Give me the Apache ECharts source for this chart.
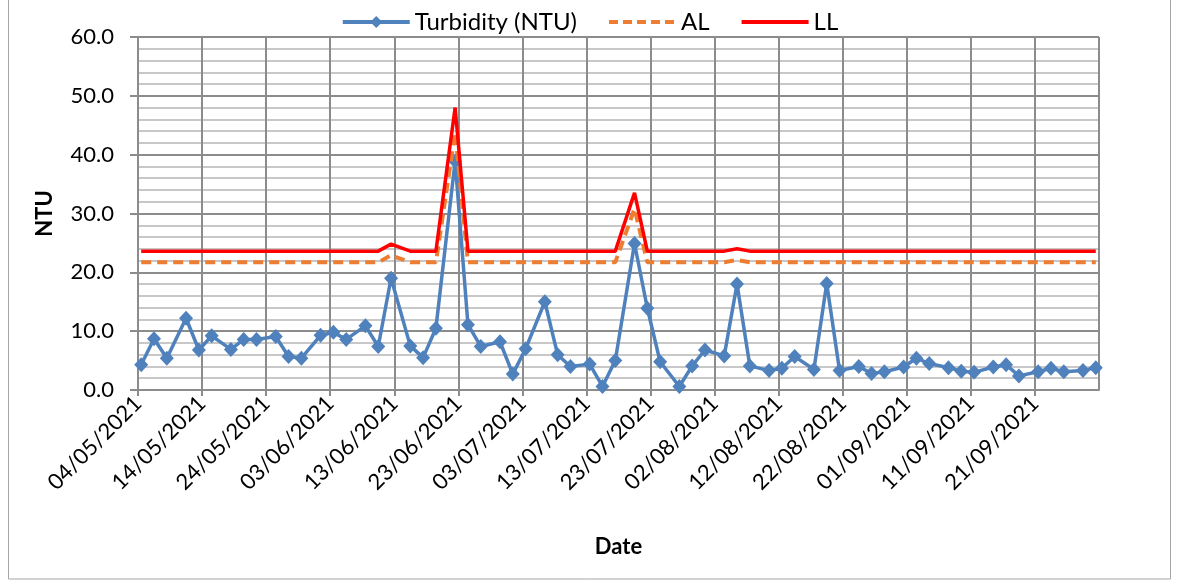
<!DOCTYPE html>
<html>
<head>
<meta charset="utf-8">
<script src="https://cdn.jsdelivr.net/npm/echarts@6/dist/echarts.min.js"></script>
<style>
  html, body { margin: 0; padding: 0; background: #ffffff; }
  #chart { width: 1179px; height: 584px; }
</style>
</head>
<body>
<div id="chart"></div>
<script>
// Sampling dates (Tue / Thu / Sat), May - September 2021
const sampleDates = [
  '2021-05-04','2021-05-06','2021-05-08','2021-05-11','2021-05-13','2021-05-15','2021-05-18','2021-05-20','2021-05-22','2021-05-25','2021-05-27','2021-05-29',
  '2021-06-01','2021-06-03','2021-06-05','2021-06-08','2021-06-10','2021-06-12','2021-06-15','2021-06-17','2021-06-19','2021-06-22','2021-06-24','2021-06-26','2021-06-29',
  '2021-07-01','2021-07-03','2021-07-06','2021-07-08','2021-07-10','2021-07-13','2021-07-15','2021-07-17','2021-07-20','2021-07-22','2021-07-24','2021-07-27','2021-07-29','2021-07-31',
  '2021-08-03','2021-08-05','2021-08-07','2021-08-10','2021-08-12','2021-08-14','2021-08-17','2021-08-19','2021-08-21','2021-08-24','2021-08-26','2021-08-28','2021-08-31',
  '2021-09-02','2021-09-04','2021-09-07','2021-09-09','2021-09-11','2021-09-14','2021-09-16','2021-09-18','2021-09-21','2021-09-23','2021-09-25','2021-09-28','2021-09-30'
];

// Turbidity readings (NTU)
const turbidity = [
  4.3, 8.7, 5.4, 12.2, 6.8, 9.2, 6.9, 8.6, 8.6, 9.1, 5.7, 5.4,
  9.3, 9.8, 8.6, 10.9, 7.4, 19.0, 7.5, 5.5, 10.5, 38.9, 11.1, 7.4, 8.2,
  2.7, 7.0, 15.0, 6.0, 4.0, 4.4, 0.6, 5.0, 24.9, 13.9, 4.8, 0.6, 4.1, 6.8,
  5.8, 18.0, 4.1, 3.3, 3.7, 5.7, 3.5, 18.1, 3.3, 4.0, 2.8, 3.1, 3.9,
  5.4, 4.5, 3.8, 3.2, 3.0, 3.9, 4.3, 2.4, 3.1, 3.7, 3.1, 3.3, 3.8
];

// Alert limit (AL)
const alertLimit = [
  21.7, 21.7, 21.7, 21.7, 21.7, 21.7, 21.7, 21.7, 21.7, 21.7, 21.7, 21.7,
  21.7, 21.7, 21.7, 21.7, 21.7, 22.9, 21.7, 21.7, 21.7, 43.8, 21.7, 21.7, 21.7,
  21.7, 21.7, 21.7, 21.7, 21.7, 21.7, 21.7, 21.7, 30.8, 21.7, 21.7, 21.7, 21.7, 21.7,
  21.7, 22.1, 21.7, 21.7, 21.7, 21.7, 21.7, 21.7, 21.7, 21.7, 21.7, 21.7, 21.7,
  21.7, 21.7, 21.7, 21.7, 21.7, 21.7, 21.7, 21.7, 21.7, 21.7, 21.7, 21.7, 21.7
];

// Lower limit (LL)
const lowerLimit = [
  23.6, 23.6, 23.6, 23.6, 23.6, 23.6, 23.6, 23.6, 23.6, 23.6, 23.6, 23.6,
  23.6, 23.6, 23.6, 23.6, 23.6, 24.8, 23.6, 23.6, 23.6, 48.0, 23.6, 23.6, 23.6,
  23.6, 23.6, 23.6, 23.6, 23.6, 23.6, 23.6, 23.6, 33.5, 23.6, 23.6, 23.6, 23.6, 23.6,
  23.6, 24.0, 23.6, 23.6, 23.6, 23.6, 23.6, 23.6, 23.6, 23.6, 23.6, 23.6, 23.6,
  23.6, 23.6, 23.6, 23.6, 23.6, 23.6, 23.6, 23.6, 23.6, 23.6, 23.6, 23.6, 23.6
];

// Date axis: days counted from the first sampling day, ticks every 10 days
const axisStart = '2021-05-04';
const axisEnd = '2021-10-01';
const tickDays = 10;
const yTicks = { min: 0, max: 60, step: 10 };

const DAY = 86400000;
function dayIndex(s) {
  const [y, m, d] = s.split('-').map(Number);
  const [y0, m0, d0] = axisStart.split('-').map(Number);
  return (Date.UTC(y, m - 1, d) - Date.UTC(y0, m0 - 1, d0)) / DAY;
}
function dayLabel(v) {
  const [y0, m0, d0] = axisStart.split('-').map(Number);
  const dt = new Date(Date.UTC(y0, m0 - 1, d0) + v * DAY);
  const dd = String(dt.getUTCDate()).padStart(2, '0');
  const mm = String(dt.getUTCMonth() + 1).padStart(2, '0');
  return dd + '/' + mm + '/' + dt.getUTCFullYear();
}
// each reading sits in the middle of its day slot
const xs = sampleDates.map(s => dayIndex(s) + 0.5);
const pair = arr => arr.map((v, i) => [xs[i], v]);

const FONT = 'Lato';
const gridGrey = '#8c8c8c';
const BLUE = '#4F81BD', ORANGE = '#ED7D31', RED = '#FF0000';

const chart = echarts.init(document.getElementById('chart'), null, { renderer: 'canvas' });
chart.setOption({
  animation: false,
  backgroundColor: '#ffffff',
  textStyle: { fontFamily: FONT, color: '#000000' },
  graphic: [{
    type: 'rect',
    shape: { x: 8.5, y: -2, width: 1162, height: 581 },
    style: { fill: 'none', stroke: '#a6a6a6', lineWidth: 1 },
    silent: true, z: -10
  }],
  legend: {
    top: 5,
    left: 'center',
    itemWidth: 67,
    itemHeight: 15,
    itemGap: 30,
    textStyle: { fontFamily: FONT, fontSize: 24, color: '#000000' },
    data: [
      { name: 'Turbidity (NTU)', lineStyle: { color: BLUE, width: 4 } },
      { name: 'AL', itemStyle: { opacity: 0 }, lineStyle: { color: ORANGE, width: 4, type: [9, 5] } },
      { name: 'LL', itemStyle: { opacity: 0 }, lineStyle: { color: RED, width: 4 } }
    ]
  },
  grid: { left: 138, right: 80, top: 37, bottom: 194, containLabel: false },
  xAxis: {
    type: 'value',
    min: 0,
    max: dayIndex(axisEnd),
    interval: tickDays,
    name: 'Date',
    nameLocation: 'middle',
    nameGap: 146,
    nameTextStyle: { fontFamily: FONT, fontSize: 22, fontWeight: 'bold', color: '#000000' },
    axisLine: { show: true, lineStyle: { color: gridGrey, width: 2 } },
    axisTick: { show: true, length: 6, lineStyle: { color: gridGrey, width: 2 } },
    axisLabel: {
      rotate: 45,
      margin: 10,
      fontFamily: FONT,
      fontSize: 22,
      color: '#000000',
      showMaxLabel: false,
      formatter: v => dayLabel(v)
    },
    splitLine: { show: true, lineStyle: { color: gridGrey, width: 2 } }
  },
  yAxis: {
    type: 'value',
    min: yTicks.min,
    max: yTicks.max,
    interval: yTicks.step,
    name: 'NTU',
    nameLocation: 'middle',
    nameGap: 82,
    nameTextStyle: { fontFamily: FONT, fontSize: 22, fontWeight: 'bold', color: '#000000' },
    axisLine: { show: true, lineStyle: { color: gridGrey, width: 2 } },
    axisTick: { show: true, length: 8, lineStyle: { color: gridGrey, width: 2 } },
    axisLabel: {
      margin: 24,
      fontFamily: FONT,
      fontSize: 22,
      color: '#000000',
      formatter: v => v.toFixed(1)
    },
    splitLine: { show: true, lineStyle: { color: gridGrey, width: 2 } },
    minorTick: { show: false, splitNumber: 5 },
    minorSplitLine: { show: true, lineStyle: { color: '#c8c8c8', width: 2 } }
  },
  series: [
    {
      name: 'Turbidity (NTU)',
      type: 'line',
      data: pair(turbidity),
      symbol: 'diamond',
      symbolSize: [14, 15],
      showAllSymbol: true,
      lineStyle: { color: BLUE, width: 3.5 },
      itemStyle: { color: BLUE },
      z: 3
    },
    {
      name: 'AL',
      type: 'line',
      data: pair(alertLimit),
      symbol: 'none',
      lineStyle: { color: ORANGE, width: 4, type: [10, 6] },
      itemStyle: { color: ORANGE },
      z: 4
    },
    {
      name: 'LL',
      type: 'line',
      data: pair(lowerLimit),
      symbol: 'none',
      lineStyle: { color: RED, width: 3.5 },
      itemStyle: { color: RED },
      z: 5
    }
  ]
});
</script>
</body>
</html>
